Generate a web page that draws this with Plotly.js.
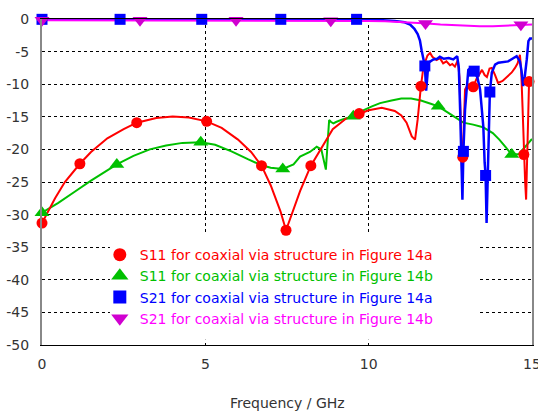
<!DOCTYPE html>
<html>
<head>
<meta charset="utf-8">
<script src="https://cdn.plot.ly/plotly-3.0.1.min.js"></script>
<style>html,body{margin:0;padding:0;background:#fff;}#chart{width:538px;height:414px;}</style>
</head>
<body>
<div id="chart"></div>
<script>
// ---- data (frequency in GHz, magnitude in dB) ----
const s11aFreq = [0,0.2,0.4,0.7,1.0,1.16,1.5,2.0,2.5,2.9,3.5,4.0,4.5,5.04,5.5,6.0,6.4,6.72,7.0,7.3,7.47,7.65,7.9,8.23,8.6,8.9,9.3,9.71,10.0,10.4,10.8,11.0,11.16,11.32,11.42,11.5,11.56,11.6,11.66,11.72,11.8,11.88,11.95,12.08,12.18,12.28,12.38,12.49,12.56,12.64,12.73,12.78,12.82,12.86,12.88,12.91,12.95,13.04,13.2,13.3,13.47,13.55,13.62,13.7,13.77,13.87,13.96,14.1,14.26,14.38,14.48,14.56,14.63,14.67,14.71,14.75,14.79,14.82,14.86,14.91,14.96,15.0];
const s11aDb = [-31.3,-29.3,-27.5,-25.0,-23.1,-22.2,-20.4,-18.3,-16.9,-15.9,-15.2,-14.95,-15.1,-15.7,-16.7,-18.5,-20.4,-22.5,-25.5,-29.5,-32.4,-30.0,-26.4,-22.5,-19.3,-16.9,-15.3,-14.5,-14.0,-13.6,-14.1,-14.8,-15.9,-18.0,-18.5,-15.4,-12.0,-10.3,-8.0,-6.7,-5.6,-5.2,-5.8,-6.3,-6.0,-6.8,-6.5,-7.1,-6.9,-7.3,-6.3,-9.0,-16.0,-24.0,-21.2,-15.0,-10.8,-10.0,-10.4,-9.2,-7.8,-8.6,-8.9,-7.6,-7.5,-8.6,-9.8,-9.5,-8.8,-8.2,-7.5,-6.8,-5.5,-8.0,-13.5,-20.8,-25.0,-27.7,-18.0,-9.6,-9.4,-9.7];
const s11aMkFreq = [0,1.16,2.9,5.04,6.72,7.47,8.23,9.71,11.6,12.88,13.2,14.75,14.91];
const s11aMkDb = [-31.3,-22.2,-15.9,-15.7,-22.5,-32.4,-22.5,-14.5,-10.3,-21.2,-10.4,-20.8,-9.6];

const s11bFreq = [0,0.5,1.0,1.5,2.29,2.8,3.3,3.8,4.3,4.86,5.3,5.8,6.3,6.7,7.0,7.37,7.7,7.9,8.2,8.41,8.55,8.62,8.69,8.75,8.79,8.85,8.92,9.0,9.2,9.53,9.8,10.1,10.35,10.7,11.0,11.3,11.6,11.9,12.13,12.5,12.9,13.2,13.5,13.8,14.0,14.2,14.38,14.6,14.8,15.0];
const s11bDb = [-29.7,-28.2,-26.5,-24.8,-22.3,-21.0,-20.0,-19.4,-19.0,-18.9,-19.3,-20.3,-21.5,-22.4,-22.8,-23.0,-22.3,-21.1,-20.4,-19.6,-20.0,-21.5,-23.1,-18.5,-15.5,-15.8,-16.0,-15.8,-15.4,-14.9,-14.1,-13.4,-12.9,-12.5,-12.2,-12.2,-12.5,-13.0,-13.4,-14.6,-15.9,-16.2,-16.6,-17.5,-18.5,-19.7,-20.8,-20.7,-19.5,-18.4];
const s11bMkFreq = [0,2.29,4.86,7.37,9.53,12.13,14.38];
const s11bMkDb = [-29.7,-22.3,-18.9,-23.0,-14.9,-13.4,-20.8];

const s21aFreq = [0,2,4,6,8,9.5,10.3,10.8,11.1,11.27,11.4,11.5,11.57,11.62,11.67,11.72,11.76,11.8,11.83,11.98,12.1,12.18,12.3,12.45,12.59,12.71,12.76,12.8,12.84,12.87,12.9,12.95,13.05,13.12,13.23,13.33,13.41,13.51,13.55,13.58,13.61,13.66,13.71,13.77,13.87,13.97,14.1,14.27,14.4,14.53,14.63,14.68,14.73,14.78,14.84,14.89,14.94,15.0];
const s21aDb = [-0.05,-0.05,-0.05,-0.05,-0.05,-0.05,-0.15,-0.3,-0.5,-0.85,-1.5,-2.3,-3.3,-4.8,-5.8,-7.2,-11.0,-9.0,-6.7,-6.2,-6.1,-5.8,-6.1,-6.0,-6.2,-5.7,-7.5,-13.9,-22.0,-27.7,-20.3,-13.9,-7.8,-7.5,-8.0,-9.0,-10.8,-16.5,-22.0,-24.0,-31.3,-19.0,-11.2,-8.2,-7.0,-6.7,-6.6,-6.5,-6.1,-5.7,-6.5,-8.0,-10.3,-8.8,-6.2,-3.4,-3.0,-3.0];
const s21aMkFreq = [0,2.39,4.89,7.31,9.63,11.72,12.9,13.23,13.58,13.71];
const s21aMkDb = [-0.05,-0.05,-0.05,-0.05,-0.05,-7.2,-20.3,-8.0,-24.0,-11.2];

const s21bFreq = [0,5,8,9,10,10.5,11,11.5,11.8,12.2,12.6,13.0,13.4,13.8,14.2,14.6,15.0];
const s21bDb = [-0.2,-0.2,-0.22,-0.25,-0.3,-0.35,-0.45,-0.6,-0.7,-0.85,-0.95,-1.05,-1.1,-1.1,-1.0,-0.9,-0.85];
const s21bMkFreq = [0,3.0,5.94,8.84,11.74,14.66];
const s21bMkDb = [-0.2,-0.2,-0.2,-0.28,-0.7,-0.9];

const seriesNames = [
  'S11 for coaxial via structure in Figure 14a',
  'S11 for coaxial via structure in Figure 14b',
  'S21 for coaxial via structure in Figure 14a',
  'S21 for coaxial via structure in Figure 14b'
];
const yTicks = [0,-5,-10,-15,-20,-25,-30,-35,-40,-45,-50];
const xTicks = [0,5,10,15];
const xTitle = 'Frequency / GHz';

// ---- styles ----
const FONT = 'DejaVu Sans, Verdana, sans-serif';
const cRed = '#ff0000', cGreen = '#00c000', cBlue = '#0000ff', cMag = '#ff00ff', cMagMk = '#d000d0';

function line(x, y, color, w) {
  return {x: x, y: y, type: 'scatter', mode: 'lines', line: {color: color, width: w}, showlegend: false, hoverinfo: 'skip', cliponaxis: false};
}
function marks(x, y, color, symbol, size) {
  return {x: x, y: y, type: 'scatter', mode: 'markers', marker: {color: color, symbol: symbol, size: size, line: {width: 0}}, showlegend: false, hoverinfo: 'skip', cliponaxis: false};
}
function legendItem(name, color, textColor, symbol, size) {
  return {x: [null], y: [null], type: 'scatter', mode: 'markers', name: '<span style="color:' + textColor + '">' + name + '</span>', marker: {color: color, symbol: symbol, size: size, line: {width: 0}}, showlegend: true};
}

const traces = [
  line(s11bFreq, s11bDb, cGreen, 2),
  line(s11aFreq, s11aDb, cRed, 2),
  line(s21aFreq, s21aDb, cBlue, 2.5),
  line(s21bFreq, s21bDb, cMag, 2),
  marks(s11bMkFreq, s11bMkDb, cGreen, 'triangle-up', 13),
  marks(s11aMkFreq, s11aMkDb, cRed, 'circle', 11),
  marks(s21aMkFreq, s21aMkDb, cBlue, 'square', 11),
  marks(s21bMkFreq, s21bMkDb, cMagMk, 'triangle-down', 13),
  legendItem(seriesNames[0], cRed, cRed, 'circle', 13),
  legendItem(seriesNames[1], cGreen, cGreen, 'triangle-up', 15),
  legendItem(seriesNames[2], cBlue, cBlue, 'square', 13),
  legendItem(seriesNames[3], cMagMk, cMag, 'triangle-down', 15)
];

const layout = {
  width: 538, height: 414,
  margin: {l: 42, r: 6, t: 19, b: 69, pad: 0},
  paper_bgcolor: '#ffffff', plot_bgcolor: '#ffffff',
  font: {family: FONT, size: 14, color: '#333333'},
  xaxis: {
    range: [0, 15], tickvals: xTicks, ticktext: xTicks.map(String),
    showgrid: true, gridcolor: '#000000', griddash: '3px,3px', gridwidth: 1,
    showline: true, linecolor: '#000000', linewidth: 1, mirror: true,
    zeroline: false, ticks: '', ticklabelstandoff: 6, ticklabeloverflow: 'allow',
    tickfont: {family: FONT, size: 14, color: '#333333'}
  },
  yaxis: {
    range: [-50, 0], tickvals: yTicks, ticktext: yTicks.map(String),
    showgrid: true, gridcolor: '#000000', griddash: '3px,3px', gridwidth: 1,
    showline: true, linecolor: '#888888', linewidth: 2, mirror: true,
    zeroline: false, ticks: '', ticklabelstandoff: 8, ticklabeloverflow: 'allow',
    tickfont: {family: FONT, size: 14, color: '#333333'}
  },
  annotations: [{
    text: xTitle, xref: 'paper', yref: 'paper', x: 0.5, y: -0.178,
    xanchor: 'center', yanchor: 'middle', showarrow: false,
    font: {family: FONT, size: 14, color: '#333333'}
  }],
  showlegend: true,
  legend: {
    x: 0.118, xanchor: 'left', y: 0.325, yanchor: 'top',
    bgcolor: 'rgba(0,0,0,0)', borderwidth: 0,
    font: {family: FONT, size: 14}, tracegroupgap: 0
  },
  shapes: [{
    type: 'rect', xref: 'x', yref: 'y', layer: 'between',
    x0: 2.08, x1: 13.32, y0: -49.2, y1: -33.0,
    fillcolor: '#ffffff', line: {width: 0}
  }]
};

Plotly.newPlot('chart', traces, layout, {staticPlot: true, displayModeBar: false});
</script>
</body>
</html>
